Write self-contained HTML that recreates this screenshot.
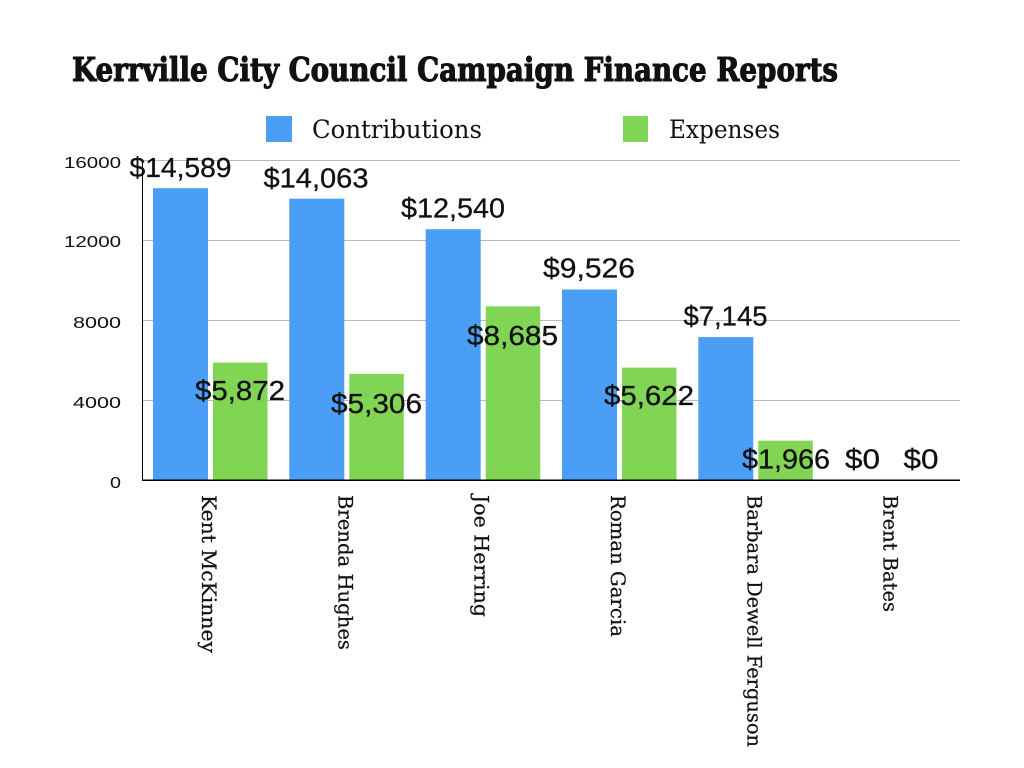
<!DOCTYPE html>
<html>
<head>
<meta charset="utf-8">
<style>
  html, body { margin:0; padding:0; background:#ffffff; }
  svg { display:block; }
  .val { font-family:"Liberation Sans", sans-serif; font-size:28px; fill:#111; text-anchor:middle; stroke:#111; stroke-width:0.3; }
  .tick { font-family:"Liberation Sans", sans-serif; font-size:16px; fill:#111; text-anchor:end; }
  .cat { font-family:"DejaVu Serif", "Liberation Serif", serif; font-size:19.5px; fill:#111; stroke:#111; stroke-width:0.25; }
  .leg { font-family:"DejaVu Serif", "Liberation Serif", serif; font-size:25px; fill:#111; }
</style>
</head>
<body>
<svg width="1024" height="768" viewBox="0 0 1024 768" xmlns="http://www.w3.org/2000/svg">
  <rect x="0" y="0" width="1024" height="768" fill="#ffffff"/>

  <!-- Title -->
  <text x="72" y="81" textLength="766" lengthAdjust="spacingAndGlyphs"
        style="font-family:'DejaVu Serif','Liberation Serif',serif;font-weight:bold;font-size:33px;fill:#111;stroke:#111;stroke-width:1.1;">Kerrville City Council Campaign Finance Reports</text>

  <!-- Legend -->
  <rect x="266" y="116" width="26" height="26" fill="#4a9ef5"/>
  <text class="leg" x="312" y="138" textLength="170" lengthAdjust="spacingAndGlyphs">Contributions</text>
  <rect x="623" y="116" width="25" height="26" fill="#80d554"/>
  <text class="leg" x="669" y="138" textLength="111" lengthAdjust="spacingAndGlyphs">Expenses</text>

  <!-- Gridlines -->
  <g stroke="#b9b9b9" stroke-width="1" shape-rendering="crispEdges">
    <line x1="142" y1="160.5" x2="960" y2="160.5"/>
    <line x1="142" y1="240.5" x2="960" y2="240.5"/>
    <line x1="142" y1="320.5" x2="960" y2="320.5"/>
    <line x1="142" y1="400.5" x2="960" y2="400.5"/>
  </g>

  <!-- Y tick labels -->
  <text class="tick" x="121" y="168" textLength="57" lengthAdjust="spacingAndGlyphs">16000</text>
  <text class="tick" x="121" y="247" textLength="57" lengthAdjust="spacingAndGlyphs">12000</text>
  <text class="tick" x="121" y="328" textLength="48" lengthAdjust="spacingAndGlyphs">8000</text>
  <text class="tick" x="121" y="408" textLength="48" lengthAdjust="spacingAndGlyphs">4000</text>
  <text class="tick" x="121" y="488" textLength="11" lengthAdjust="spacingAndGlyphs">0</text>

  <!-- Bars: contributions -->
  <g fill="#4a9ef5">
    <rect x="153" y="188.2" width="55" height="291.8"/>
    <rect x="289.3" y="198.7" width="55" height="281.3"/>
    <rect x="425.7" y="229.2" width="55" height="250.8"/>
    <rect x="562" y="289.5" width="55" height="190.5"/>
    <rect x="698.3" y="337.1" width="55" height="142.9"/>
  </g>
  <!-- Bars: expenses -->
  <g fill="#80d554">
    <rect x="213" y="362.6" width="54.5" height="117.4"/>
    <rect x="349.3" y="373.9" width="54.5" height="106.1"/>
    <rect x="485.7" y="306.3" width="54.5" height="173.7"/>
    <rect x="622" y="367.6" width="54.5" height="112.4"/>
    <rect x="758.3" y="440.7" width="54.5" height="39.3"/>
  </g>

  <!-- Axes -->
  <g stroke="#000" shape-rendering="crispEdges">
    <line x1="142.5" y1="160" x2="142.5" y2="480" stroke-width="1"/>
    <line x1="142" y1="480" x2="960" y2="480" stroke-width="1.5"/>
  </g>

  <!-- Value labels: contributions -->
  <text class="val" x="180.5" y="177" textLength="102" lengthAdjust="spacingAndGlyphs">$14,589</text>
  <text class="val" x="316" y="187.5" textLength="105" lengthAdjust="spacingAndGlyphs">$14,063</text>
  <text class="val" x="453" y="217.5" textLength="104" lengthAdjust="spacingAndGlyphs">$12,540</text>
  <text class="val" x="589" y="277.5" textLength="92" lengthAdjust="spacingAndGlyphs">$9,526</text>
  <text class="val" x="725.5" y="325.5" textLength="84" lengthAdjust="spacingAndGlyphs">$7,145</text>
  <text class="val" x="862.5" y="468.5" textLength="35" lengthAdjust="spacingAndGlyphs">$0</text>

  <!-- Value labels: expenses -->
  <text class="val" x="240" y="400" textLength="90" lengthAdjust="spacingAndGlyphs">$5,872</text>
  <text class="val" x="376.5" y="413" textLength="91" lengthAdjust="spacingAndGlyphs">$5,306</text>
  <text class="val" x="512.5" y="345" textLength="91" lengthAdjust="spacingAndGlyphs">$8,685</text>
  <text class="val" x="649" y="405" textLength="90" lengthAdjust="spacingAndGlyphs">$5,622</text>
  <text class="val" x="786" y="468.5" textLength="88" lengthAdjust="spacingAndGlyphs">$1,966</text>
  <text class="val" x="921" y="468.5" textLength="35" lengthAdjust="spacingAndGlyphs">$0</text>

  <!-- Category labels (rotated) -->
  <text class="cat" transform="translate(202,495) rotate(90)" textLength="158" lengthAdjust="spacingAndGlyphs">Kent McKinney</text>
  <text class="cat" transform="translate(338.5,495) rotate(90)" textLength="155" lengthAdjust="spacingAndGlyphs">Brenda Hughes</text>
  <text class="cat" transform="translate(474.5,495) rotate(90)" textLength="122" lengthAdjust="spacingAndGlyphs">Joe Herring</text>
  <text class="cat" transform="translate(611,495) rotate(90)" textLength="142" lengthAdjust="spacingAndGlyphs">Roman Garcia</text>
  <text class="cat" transform="translate(747.5,495) rotate(90)" textLength="252" lengthAdjust="spacingAndGlyphs">Barbara Dewell Ferguson</text>
  <text class="cat" transform="translate(883.5,495) rotate(90)" textLength="117" lengthAdjust="spacingAndGlyphs">Brent Bates</text>
</svg>
</body>
</html>
